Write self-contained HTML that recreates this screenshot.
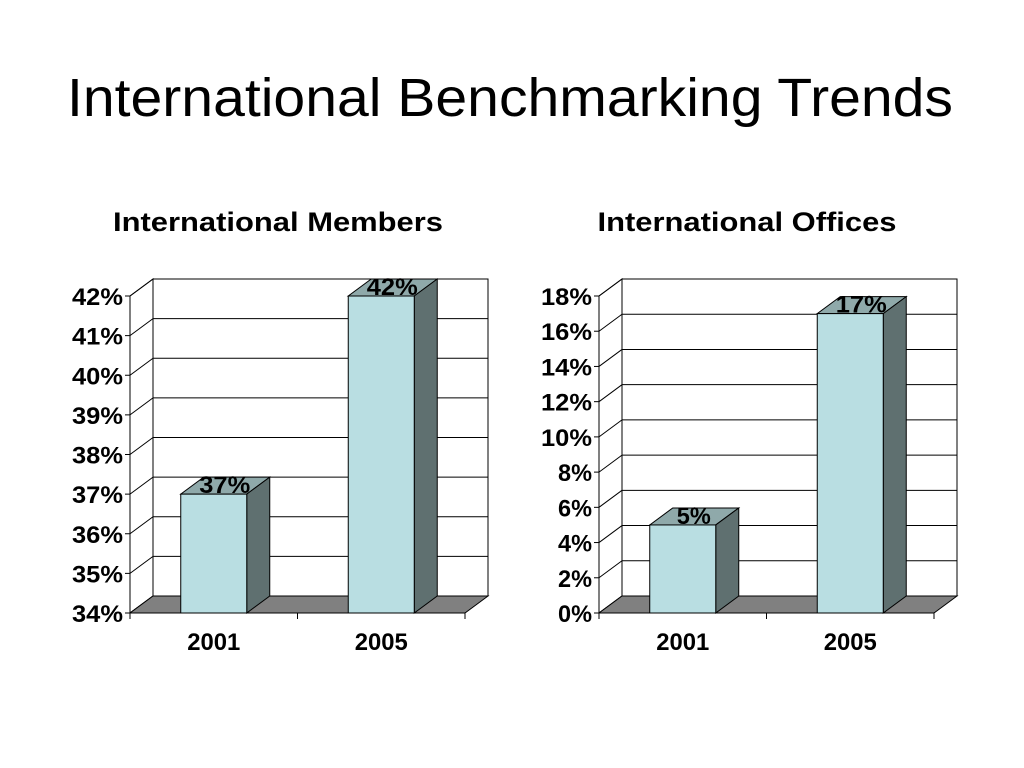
<!DOCTYPE html>
<html><head><meta charset="utf-8"><style>
body{margin:0;background:#fff;}
svg{display:block;font-family:"Liberation Sans",Arial,sans-serif;}
</style></head><body>
<svg id="s" width="1024" height="768" viewBox="0 0 1024 768">
<text x="510" y="116" text-anchor="middle" font-size="54" textLength="886" lengthAdjust="spacingAndGlyphs">International Benchmarking Trends</text>
<text x="278" y="231" text-anchor="middle" font-size="27" font-weight="bold" textLength="330" lengthAdjust="spacingAndGlyphs">International Members</text>
<text x="747" y="231" text-anchor="middle" font-size="27" font-weight="bold" textLength="299" lengthAdjust="spacingAndGlyphs">International Offices</text>
<g id="c1"></g>
<g id="c2"></g>
</svg>
<script>
const categories = ["2001", "2005"];
const membersValues = [37, 42];
const membersLabels = ["37%", "42%"];
const membersTicks = [34, 35, 36, 37, 38, 39, 40, 41, 42];
const officesValues = [5, 17];
const officesLabels = ["5%", "17%"];
const officesTicks = [0, 2, 4, 6, 8, 10, 12, 14, 16, 18];

const NS = "http://www.w3.org/2000/svg";
function mk(parent, tag, attrs, text) {
  const e = document.createElementNS(NS, tag);
  for (const k in attrs) e.setAttribute(k, attrs[k]);
  if (text !== undefined) e.textContent = text;
  parent.appendChild(e);
  return e;
}
function drawChart(g, x0, vals, labels, ticks, name) {
  const x1 = x0 + 335, yB = 613, yT = 296, dx = 23, dy = -17;
  const min = ticks[0], max = ticks[ticks.length - 1];
  const y = v => yB - (v - min) / (max - min) * (yB - yT);
  const band = (x1 - x0) / categories.length;
  const wall = mk(g, "rect", {x: x0 + dx, y: yT + dy, width: x1 - x0, height: yB - yT, fill: "#fff", stroke: "#000", "stroke-width": 1});
  
  
  const side = mk(g, "polygon", {points: `${x0},${yB} ${x0},${yT} ${x0+dx},${yT+dy} ${x0+dx},${yB+dy}`, fill: "#fff", stroke: "#000", "stroke-width": 1});
  
  
  ticks.forEach(t => {
    const yy = y(t);
    if (t !== min) {
      const gl = mk(g, "line", {x1: x0 + dx, y1: yy + dy, x2: x1 + dx, y2: yy + dy, stroke: "#000", "stroke-width": 1});
      
      
    }
    const dl = mk(g, "line", {x1: x0, y1: yy, x2: x0 + dx, y2: yy + dy, stroke: "#000", "stroke-width": 1});
    
    
    const tk = mk(g, "line", {x1: x0 - 5, y1: yy, x2: x0, y2: yy, stroke: "#000"});
    
    
    const lbl = t + "%";
    const tl = mk(g, "text", {x: x0 - 7, y: yy + 9, "text-anchor": "end", "font-size": 24, "font-weight": "bold", textLength: lbl.length * 17, lengthAdjust: "spacingAndGlyphs"}, lbl);
    
    
  });
  const floor = mk(g, "polygon", {points: `${x0},${yB} ${x1},${yB} ${x1+dx},${yB+dy} ${x0+dx},${yB+dy}`, fill: "#808080", stroke: "#000", "stroke-width": 1});
  
  
  const ax = mk(g, "line", {x1: x0, y1: yB, x2: x1, y2: yB, stroke: "#000"});
  
  
  const yax = mk(g, "line", {x1: x0, y1: yT, x2: x0, y2: yB, stroke: "#000"});
  
  
  for (let i = 0; i <= categories.length; i++) {
    const xt = x0 + i * band;
    const xk = mk(g, "line", {x1: xt, y1: yB, x2: xt, y2: yB + 6, stroke: "#000"});
    
    
  }
  categories.forEach((c, i) => {
    const cx = x0 + band * (i + 0.5);
    const bw = 66, bx = cx - 33, by = y(vals[i]);
    const top = mk(g, "polygon", {points: `${bx},${by} ${bx+bw},${by} ${bx+bw+dx},${by+dy} ${bx+dx},${by+dy}`, fill: "#8fa9aa", stroke: "#000", "stroke-width": 1});
    
    
    const sd = mk(g, "polygon", {points: `${bx+bw},${by} ${bx+bw+dx},${by+dy} ${bx+bw+dx},${yB+dy} ${bx+bw},${yB}`, fill: "#5f7070", stroke: "#000", "stroke-width": 1});
    
    
    const fr = mk(g, "rect", {x: bx, y: by, width: bw, height: yB - by, fill: "#b9dee2", stroke: "#000", "stroke-width": 1});
    
    
    const vl = mk(g, "text", {x: bx + bw / 2 + 11, y: by - 1, "text-anchor": "middle", "font-size": 24, "font-weight": "bold", textLength: labels[i].length * 17, lengthAdjust: "spacingAndGlyphs"}, labels[i]);
    
    
    const xl = mk(g, "text", {x: cx, y: 650, "text-anchor": "middle", "font-size": 24, "font-weight": "bold", textLength: 53, lengthAdjust: "spacingAndGlyphs"}, c);
    
    
  });
}
drawChart(document.getElementById("c1"), 130, membersValues, membersLabels, membersTicks, "members");
drawChart(document.getElementById("c2"), 599, officesValues, officesLabels, officesTicks, "offices");
</script>
</body></html>
